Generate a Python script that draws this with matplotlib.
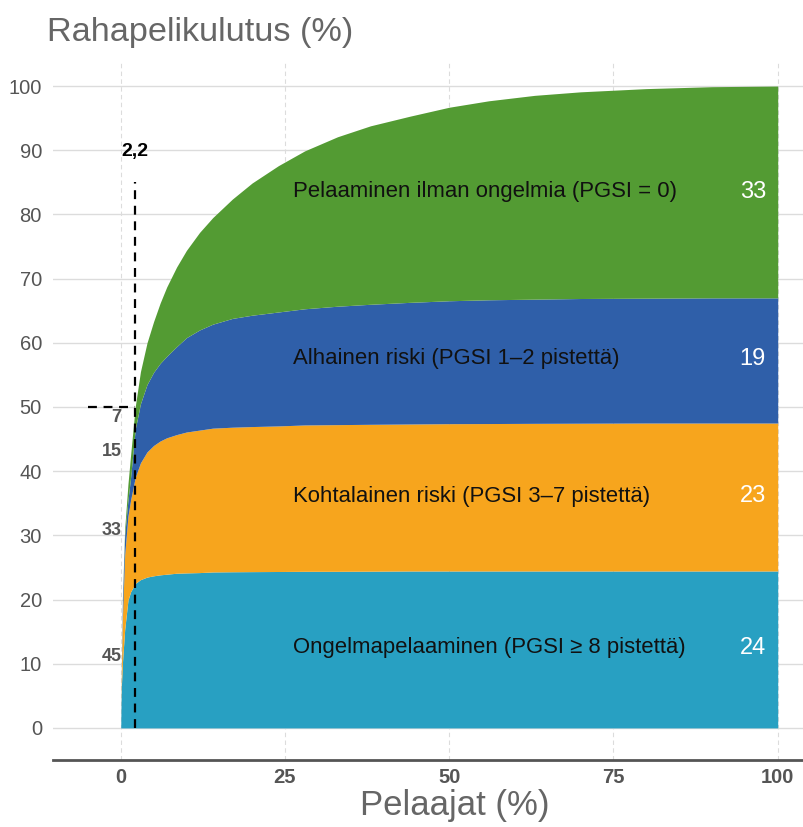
import matplotlib
matplotlib.use("Agg")
import matplotlib.pyplot as plt

plt.rcParams['font.family'] = ['Liberation Sans', 'DejaVu Sans']

# players percentile (sorted by spending, largest first)
players = [0, 0.05, 0.1, 0.25, 0.6, 1.1, 1.5, 2.2, 3, 4, 5, 6, 7, 8.5, 10, 12, 14, 17,
           20, 24, 28, 33, 38, 44, 50, 56, 63, 70, 80, 90, 100]

# cumulative share of spending, stacked tops of each group
problem = [0, 4, 6.5, 10, 15.3, 19.9, 21.2, 22.5, 23.1, 23.5, 23.7, 23.85, 23.95, 24.1,
           24.15, 24.2, 24.3, 24.33, 24.35, 24.37, 24.4, 24.4, 24.42, 24.45, 24.45,
           24.45, 24.45, 24.45, 24.45, 24.45, 24.45]
moderate = [0, 5, 9, 17, 27, 33, 35.5, 39, 41.3, 43, 44, 44.7, 45.2, 45.7, 46.1, 46.4,
            46.7, 46.85, 46.95, 47.05, 47.2, 47.25, 47.3, 47.35, 47.4, 47.42, 47.45,
            47.47, 47.5, 47.5, 47.5]
lowrisk = [0, 5.3, 9.6, 19.5, 30, 35.5, 39, 46.5, 50.5, 53.5, 55.4, 56.8, 57.9, 59.4,
           60.8, 62.0, 62.9, 63.8, 64.3, 64.8, 65.3, 65.7, 66.0, 66.3, 66.55, 66.7,
           66.8, 66.9, 66.95, 67.0, 67.0]
total = [0, 5.5, 10, 20, 31, 38, 42.5, 50, 55.5, 60, 63.3, 66.2, 68.7, 71.8, 74.4, 77.2,
         79.5, 82.4, 84.9, 87.6, 89.9, 92.1, 93.8, 95.3, 96.7, 97.7, 98.55, 99.1, 99.6,
         99.9, 100]

group_labels = ["Ongelmapelaaminen (PGSI \u2265 8 pistettä)",
                "Kohtalainen riski (PGSI 3\u20137 pistettä)",
                "Alhainen riski (PGSI 1\u20132 pistettä)",
                "Pelaaminen ilman ongelmia (PGSI = 0)"]
group_shares = ["24", "23", "19", "33"]
label_y = [12.5, 36.1, 57.5, 83.5]
top_shares = ["45", "33", "15", "7"]
top_share_y = [11.2, 30.8, 43, 48.4]
colors = ['#28a0c2', '#f7a51d', '#2f5fa9', '#539b33']

fig = plt.figure(figsize=(8.04, 8.27), dpi=100)
ax = fig.add_axes([0.066, 0.081, 0.934, 0.846])

bounds = [[0] * len(players), problem, moderate, lowrisk, total]
for i in range(4):
    ax.fill_between(players, bounds[i], bounds[i + 1], color=colors[i], lw=0, zorder=2)

for lab, share, y in zip(group_labels, group_shares, label_y):
    ax.text(26.2, y, lab, fontsize=15.9, color='#111111', va='center', ha='left', zorder=5)
    ax.text(98.2, y, share, fontsize=17, color='white', va='center', ha='right', zorder=5)

for s, y in zip(top_shares, top_share_y):
    ax.text(0.1, y, s, fontsize=13, color='#555555', fontweight='bold',
            va='center', ha='right', zorder=5)

# top 2.2 % of players = 50 % of spending
ax.plot([2.2, 2.2], [0, 85], ls=(0, (4, 3)), color='black', lw=1.6, zorder=4)
ax.plot([-5, 2.2], [50, 50], ls=(0, (4, 3)), color='black', lw=1.6, zorder=4)
ax.text(2.2, 89.8, "2,2", fontsize=14, fontweight='bold', ha='center', va='center')

ax.set_xlim(-10.3, 104)
ax.set_ylim(-5, 104)
ax.set_yticks(range(0, 101, 10))
ax.set_xticks([0, 25, 50, 75, 100])
ax.grid(axis='y', color='#dcdcdc', lw=1, zorder=0)
ax.grid(axis='x', color='#dcdcdc', lw=0.8, ls=(0, (4, 3)), zorder=0)
ax.set_axisbelow(True)
for side in ['top', 'right', 'left']:
    ax.spines[side].set_visible(False)
ax.spines['bottom'].set_color('#555555')
ax.spines['bottom'].set_linewidth(2)
ax.tick_params(axis='y', length=0, pad=8, labelsize=14.5, labelcolor='#555555')
ax.tick_params(axis='x', length=0, pad=6, labelsize=14.5, labelcolor='#555555')
for t in ax.get_xticklabels():
    t.set_fontweight('bold')

fig.text(47 / 804, 1 - 33 / 827, "Rahapelikulutus (%)", fontsize=24.7, color='#666666',
         ha='left', va='center')
fig.text(455 / 804, 1 - 806 / 827, "Pelaajat (%)", fontsize=25, color='#666666',
         ha='center', va='center')

fig.savefig("out.png", dpi=100)
